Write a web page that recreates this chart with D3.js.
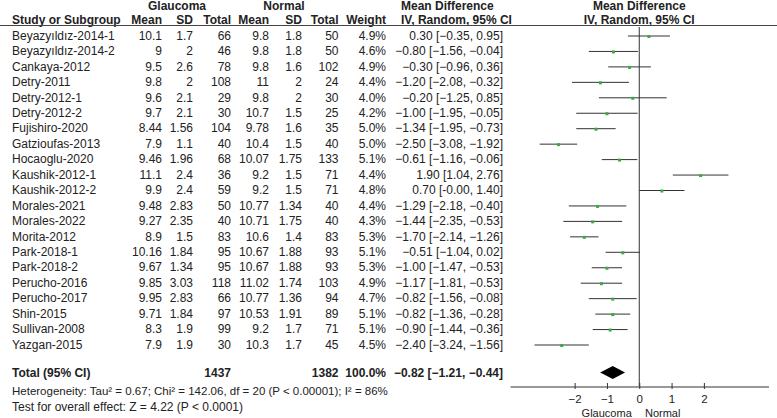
<!DOCTYPE html>
<html>
<head>
<meta charset="utf-8">
<script src="https://cdn.jsdelivr.net/npm/d3@7/dist/d3.min.js"></script>
<style>
html,body{margin:0;padding:0;background:#fff;}
svg{display:block;font-family:"Liberation Sans",Arial,Helvetica,sans-serif;font-size:12px;}
</style>
</head>
<body>
<svg id="chart" width="777" height="418"></svg>
<script>
const studies = ["Beyazyıldız-2014-1","Beyazyıldız-2014-2","Cankaya-2012","Detry-2011","Detry-2012-1","Detry-2012-2","Fujishiro-2020","Gatzioufas-2013","Hocaoglu-2020","Kaushik-2012-1","Kaushik-2012-2","Morales-2021","Morales-2022","Morita-2012","Park-2018-1","Park-2018-2","Perucho-2016","Perucho-2017","Shin-2015","Sullivan-2008","Yazgan-2015"];
const glaucomaMean = ["10.1","9","9.5","9.8","9.6","9.7","8.44","7.9","9.46","11.1","9.9","9.48","9.27","8.9","10.16","9.67","9.85","9.95","9.71","8.3","7.9"];
const glaucomaSD = ["1.7","2","2.6","2","2.1","2.1","1.56","1.1","1.96","2.4","2.4","2.83","2.35","1.5","1.84","1.34","3.03","2.83","1.84","1.9","1.9"];
const glaucomaN = [66,46,78,108,29,30,104,40,68,36,59,50,40,83,95,95,118,66,97,99,30];
const normalMean = ["9.8","9.8","9.8","11","9.8","10.7","9.78","10.4","10.07","9.2","9.2","10.77","10.71","10.6","10.67","10.67","11.02","10.77","10.53","9.2","10.3"];
const normalSD = ["1.8","1.8","1.6","2","2","1.5","1.6","1.5","1.75","1.5","1.5","1.34","1.75","1.4","1.88","1.88","1.74","1.36","1.91","1.7","1.7"];
const normalN = [50,50,102,24,30,25,35,40,133,71,71,40,40,83,93,93,103,94,89,71,45];
const weights = [4.9,4.6,4.9,4.4,4.0,4.2,5.0,5.0,5.1,4.4,4.8,4.4,4.3,5.3,5.1,5.3,4.9,4.7,5.1,5.1,4.5];
const md = [0.30,-0.80,-0.30,-1.20,-0.20,-1.00,-1.34,-2.50,-0.61,1.90,0.70,-1.29,-1.44,-1.70,-0.51,-1.00,-1.17,-0.82,-0.82,-0.90,-2.40];
const ciLow = [-0.35,-1.56,-0.96,-2.08,-1.25,-1.95,-1.95,-3.08,-1.16,1.04,-0.00,-2.18,-2.35,-2.14,-1.04,-1.47,-1.81,-1.56,-1.36,-1.44,-3.24];
const ciHigh = [0.95,-0.04,0.36,-0.32,0.85,-0.05,-0.73,-1.92,-0.06,2.76,1.40,-0.40,-0.53,-1.26,0.02,-0.53,-0.53,-0.08,-0.28,-0.36,-1.56];
const total = {glaucomaN:1437, normalN:1382, weight:"100.0%", md:-0.82, lo:-1.21, hi:-0.44};
const axisTicks = [-2,-1,0,1,2];
const axisDomain = [-4,4];
const heterogeneityText = "Heterogeneity: Tau² = 0.67; Chi² = 142.06, df = 20 (P < 0.00001); I² = 86%";
const overallText = "Test for overall effect: Z = 4.22 (P < 0.0001)";
const favourLeft = "Glaucoma", favourRight = "Normal";

const fmt2 = d3.format(".2f");
const fmtMD = v => (Object.is(v,-0)) ? "-0.00" : fmt2(v);
const ciLabel = (m,l,h) => `${fmtMD(m)} [${fmtMD(l)}, ${fmtMD(h)}]`;

const rows = studies.map((s,i)=>({name:s,gm:glaucomaMean[i],gs:glaucomaSD[i],gn:glaucomaN[i],nm:normalMean[i],ns:normalSD[i],nn:normalN[i],w:weights[i],md:md[i],lo:ciLow[i],hi:ciHigh[i]}));

const svg = d3.select("#chart");
const ink = "#222";
const y = d3.scalePoint().domain(studies).range([35.5, 344.5]);
const x = d3.scaleLinear().domain(axisDomain).range([510, 768.5]);
const yTotal = 372.5, yHet = 391, yTest = 407, yAxis = 386.5;

const cols = [
  {key:"gm", x:162}, {key:"gs", x:193}, {key:"gn", x:231},
  {key:"nm", x:269}, {key:"ns", x:302}, {key:"nn", x:338.5}
];
const xName = 12, xWeight = 386, xMD = 503, xMDhead = 401;

// headers
const hdr = svg.append("g").attr("font-weight","bold").attr("fill",ink);
hdr.append("text").attr("x",177).attr("y",10).attr("text-anchor","middle").text("Glaucoma");
hdr.append("text").attr("x",284).attr("y",10).attr("text-anchor","middle").text("Normal");
hdr.append("text").attr("x",xMDhead).attr("y",10).text("Mean Difference");
hdr.append("text").attr("x",x(0)).attr("y",10).attr("text-anchor","middle").text("Mean Difference");
hdr.append("text").attr("x",xName).attr("y",23.5).text("Study or Subgroup");
[["Mean",162],["SD",193],["Total",231],["Mean",269],["SD",302],["Total",338.5],["Weight",386]].forEach(([t,xx])=>{
  hdr.append("text").attr("x",xx).attr("y",23.5).attr("text-anchor","end").text(t);
});
hdr.append("text").attr("x",xMDhead).attr("y",23.5).text("IV, Random, 95% CI");
hdr.append("text").attr("x",x(0)).attr("y",23.5).attr("text-anchor","middle").text("IV, Random, 95% CI");

svg.append("line").attr("x1",0).attr("x2",777).attr("y1",25.5).attr("y2",25.5).attr("stroke","#444").attr("stroke-width",1.2);

// study rows
const g = svg.append("g").attr("fill",ink);
const rowG = g.selectAll("g.row").data(rows).join("g").attr("class","row").attr("transform",d=>`translate(0,${y(d.name)})`);
rowG.append("text").attr("x",xName).attr("dy","0.35em").text(d=>d.name);
cols.forEach(c=>{
  rowG.append("text").attr("x",c.x).attr("dy","0.35em").attr("text-anchor","end").text(d=>d[c.key]);
});
rowG.append("text").attr("x",xWeight).attr("dy","0.35em").attr("text-anchor","end").text(d=>d3.format(".1f")(d.w)+"%");
rowG.append("text").attr("x",xMD).attr("dy","0.35em").attr("text-anchor","end").text(d=>ciLabel(d.md,d.lo,d.hi));

// zero line
svg.append("line").attr("x1",x(0)).attr("x2",x(0)).attr("y1",27).attr("y2",yAxis).attr("stroke","#333").attr("stroke-width",1);

// CI lines and markers
const plot = svg.append("g");
plot.selectAll("line.ci").data(rows).join("line").attr("class","ci")
  .attr("x1",d=>x(d.lo)).attr("x2",d=>x(d.hi))
  .attr("y1",d=>y(d.name)+0.5).attr("y2",d=>y(d.name)+0.5)
  .attr("stroke","#333").attr("stroke-width",1);
plot.selectAll("rect.pt").data(rows).join("rect").attr("class","pt")
  .attr("x",d=>x(d.md)-1.5).attr("y",d=>y(d.name)-0.5)
  .attr("width",3).attr("height",3).attr("fill","#3daa3d");

// total row
const tg = svg.append("g").attr("font-weight","bold").attr("fill",ink).attr("transform",`translate(0,${yTotal})`);
tg.append("text").attr("x",xName).attr("dy","0.35em").text("Total (95% CI)");
tg.append("text").attr("x",231).attr("dy","0.35em").attr("text-anchor","end").text(total.glaucomaN);
tg.append("text").attr("x",338.5).attr("dy","0.35em").attr("text-anchor","end").text(total.normalN);
tg.append("text").attr("x",xWeight).attr("dy","0.35em").attr("text-anchor","end").text(total.weight);
tg.append("text").attr("x",xMD).attr("dy","0.35em").attr("text-anchor","end").text(ciLabel(total.md,total.lo,total.hi));

// diamond
svg.append("path").attr("fill","#000")
  .attr("d",`M${x(total.lo)},${yTotal} L${x(total.md)},${yTotal-6.5} L${x(total.hi)},${yTotal} L${x(total.md)},${yTotal+6.5} Z`);

// footnotes
svg.append("text").attr("x",xName).attr("y",yHet).attr("dy","0.35em").attr("fill",ink).attr("font-size","11.5px").text(heterogeneityText);
svg.append("text").attr("x",xName).attr("y",yTest).attr("dy","0.35em").attr("fill",ink).text(overallText);

// axis
const axis = d3.axisBottom(x).tickValues(axisTicks).tickFormat(d3.format("d")).tickSizeInner(4).tickSizeOuter(0);
const ag = svg.append("g").attr("transform",`translate(0,${yAxis})`).call(axis);
ag.select(".domain").attr("stroke","#333");
ag.selectAll(".tick line").attr("y1",-3.5).attr("y2",2.5).attr("stroke","#333");
ag.selectAll(".tick text").attr("y",16.5).attr("dy",null).attr("font-size","11.5px")
  .attr("font-family","'Liberation Sans',Arial,sans-serif").attr("fill",ink);

svg.append("text").attr("x",x(0)-7.5).attr("y",416.5).attr("font-size","11px").attr("text-anchor","end").attr("fill",ink).text(favourLeft);
svg.append("text").attr("x",x(0)+5.7).attr("y",416.5).attr("font-size","11px").attr("text-anchor","start").attr("fill",ink).text(favourRight);
</script>
</body>
</html>
